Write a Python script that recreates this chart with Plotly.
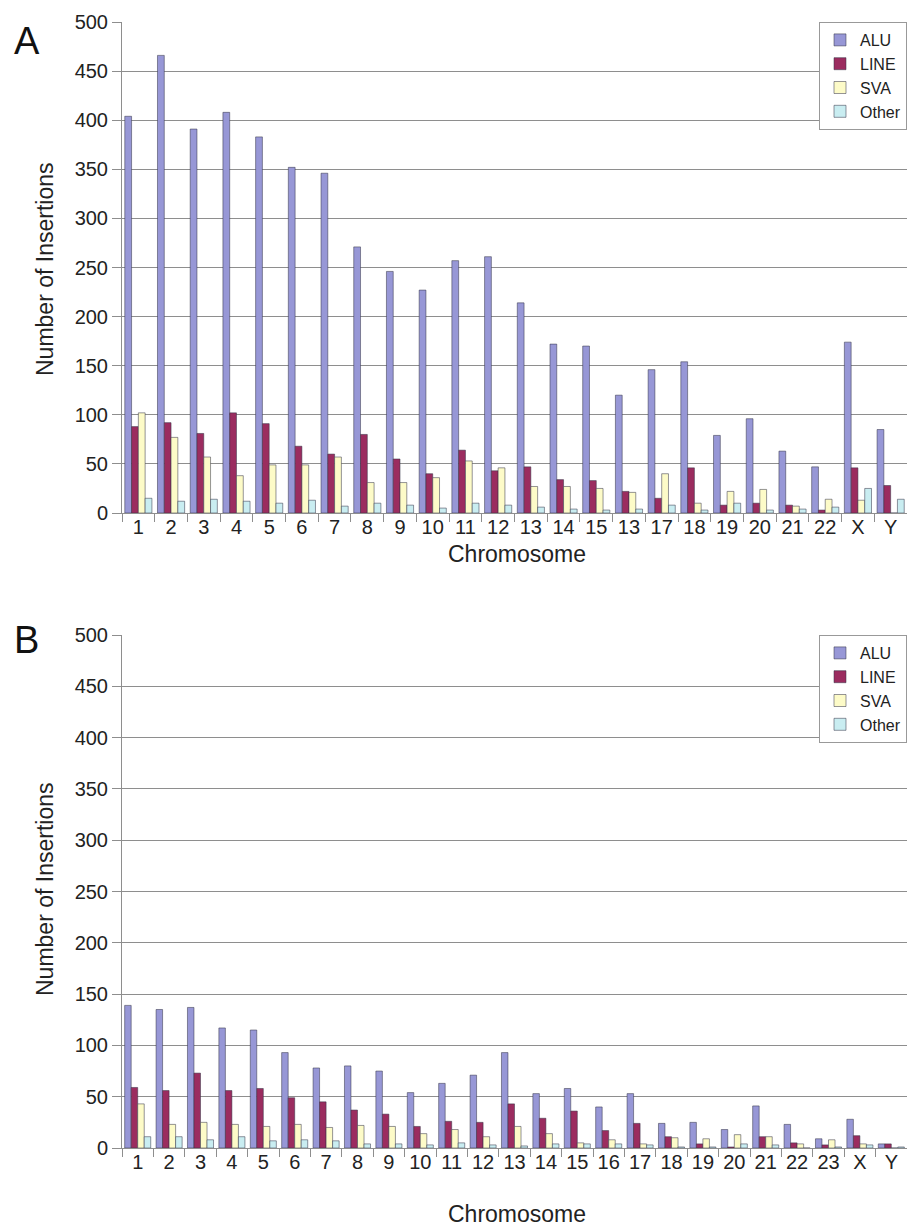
import plotly.graph_objects as go

# ---------------- data ----------------
series = ["ALU", "LINE", "SVA", "Other"]
colors = ["#9797d6", "#9b2c5f", "#fdfbc8", "#c9edf1"]

labels_a = ["1", "2", "3", "4", "5", "6", "7", "8", "9", "10", "11", "12", "13",
            "14", "15", "13", "17", "18", "19", "20", "21", "22", "X", "Y"]
alu_a = [404, 466, 391, 408, 383, 352, 346, 271, 246, 227, 257, 261, 214, 172, 170,
         120, 146, 154, 79, 96, 63, 47, 174, 85]
line_a = [88, 92, 81, 102, 91, 68, 60, 80, 55, 40, 64, 43, 47, 34, 33, 22, 15, 46,
          8, 10, 8, 3, 46, 28]
sva_a = [102, 77, 57, 38, 49, 49, 57, 31, 31, 36, 53, 46, 27, 27, 25, 21, 40, 10,
         22, 24, 7, 14, 13, 0]
other_a = [15, 12, 14, 12, 10, 13, 7, 10, 8, 5, 10, 8, 6, 4, 3, 4, 8, 3, 10, 3, 4,
           6, 25, 14]

labels_b = ["1", "2", "3", "4", "5", "6", "7", "8", "9", "10", "11", "12", "13",
            "14", "15", "16", "17", "18", "19", "20", "21", "22", "23", "X", "Y"]
alu_b = [139, 135, 137, 117, 115, 93, 78, 80, 75, 54, 63, 71, 93, 53, 58, 40, 53,
         24, 25, 18, 41, 23, 9, 28, 4]
line_b = [59, 56, 73, 56, 58, 49, 45, 37, 33, 21, 26, 25, 43, 29, 36, 17, 24, 11,
          4, 1, 11, 5, 3, 12, 4]
sva_b = [43, 23, 25, 23, 21, 23, 20, 22, 21, 14, 18, 11, 21, 14, 5, 8, 4, 10, 9,
         13, 11, 4, 8, 4, 0]
other_b = [11, 11, 8, 11, 7, 8, 7, 4, 4, 3, 5, 3, 2, 4, 4, 4, 3, 1, 1, 4, 3, 0, 1,
           3, 1]

y_ticks = [0, 50, 100, 150, 200, 250, 300, 350, 400, 450, 500]

# ---------------- figure ----------------
FONT = "Liberation Sans, Arial, sans-serif"
fig = go.Figure()

pos_a = list(range(len(labels_a)))
pos_b = list(range(len(labels_b)))

for name, col, vals in zip(series, colors, [alu_a, line_a, sva_a, other_a]):
    fig.add_trace(go.Bar(x=pos_a, y=vals, name=name, xaxis="x", yaxis="y",
                         marker=dict(color=col, line=dict(color="rgba(50,50,70,0.65)", width=0.8)),
                         legend="legend"))
for name, col, vals in zip(series, colors, [alu_b, line_b, sva_b, other_b]):
    fig.add_trace(go.Bar(x=pos_b, y=vals, name=name, xaxis="x2", yaxis="y2",
                         marker=dict(color=col, line=dict(color="rgba(50,50,70,0.65)", width=0.8)),
                         legend="legend2"))

W, H = 907, 1228
ML, MR, MT, MB = 122, 0, 22, 80
PH = H - MT - MB
PW = W - ML - MR


def py(px):
    return (H - MB - px) / PH


def pxx(px):
    return (px - ML) / PW


grid_col = "#8e8e8e"
tickfont = dict(family=FONT, size=20, color="#222")


def xaxis_cfg(n, labels, anchor):
    return dict(
        anchor=anchor, domain=[0, 1], range=[-0.5, n - 0.5],
        tickmode="array", tickvals=list(range(n)), ticktext=labels,
        ticks="outside", ticklen=1, tickcolor="rgba(0,0,0,0)",
        ticklabelstandoff=-5,
        minor=dict(tickmode="array", tickvals=[i - 0.5 for i in range(n + 1)],
                   ticks="outside", ticklen=8, tickcolor=grid_col, tickwidth=1,
                   showgrid=False),
        showline=True, linecolor=grid_col, linewidth=1,
        showgrid=False, zeroline=False, tickfont=tickfont, fixedrange=True,
    )


def yaxis_cfg(domain, anchor):
    return dict(
        anchor=anchor, domain=domain, range=[0, 500],
        tickmode="array", tickvals=y_ticks,
        ticks="outside", ticklen=9, tickcolor=grid_col,
        showline=True, linecolor=grid_col, linewidth=1,
        showgrid=True, gridcolor=grid_col, gridwidth=1,
        zeroline=False, tickfont=tickfont,
    )


legend_common = dict(
    xref="paper", yref="paper", x=1, xanchor="right", yanchor="top",
    bgcolor="white", bordercolor="#999", borderwidth=1,
    font=dict(family=FONT, size=16, color="#222"),
    traceorder="normal", itemwidth=30, tracegroupgap=0,
)

fig.update_layout(
    width=W, height=H,
    margin=dict(l=ML, r=MR, t=MT, b=MB),
    paper_bgcolor="white", plot_bgcolor="white",
    barmode="group", bargap=0.17, bargroupgap=0,
    font=dict(family=FONT, color="#222"),
    xaxis=xaxis_cfg(len(labels_a), labels_a, "y"),
    yaxis=yaxis_cfg([py(513), 1], "x"),
    xaxis2=xaxis_cfg(len(labels_b), labels_b, "y2"),
    yaxis2=yaxis_cfg([0, py(635)], "x2"),
    legend=dict(legend_common, y=1),
    legend2=dict(legend_common, y=py(635)),
    showlegend=True,
)

ann_font = dict(family=FONT, size=23, color="#222")
annotations = [
    dict(text="Chromosome", x=pxx(517), y=py(554), font=ann_font),
    dict(text="Chromosome", x=pxx(517), y=py(1214), font=ann_font),
    dict(text="Number of Insertions", x=pxx(45), y=py(270), font=ann_font, textangle=-90),
    dict(text="Number of Insertions", x=pxx(45), y=py(890), font=ann_font, textangle=-90),
    dict(text="A", x=pxx(27), y=py(41), font=dict(family=FONT, size=38, color="#111")),
    dict(text="B", x=pxx(26), y=py(640), font=dict(family=FONT, size=38, color="#111")),
]
for a in annotations:
    a.update(xref="paper", yref="paper", showarrow=False, xanchor="center", yanchor="middle")
fig.update_layout(annotations=annotations)

fig.write_html("out.html")
